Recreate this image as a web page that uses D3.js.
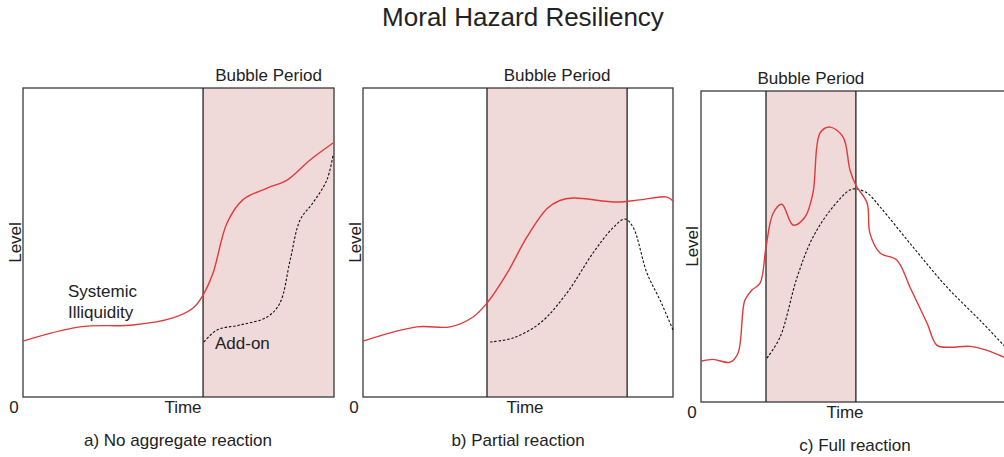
<!DOCTYPE html>
<html>
<head>
<meta charset="utf-8">
<script src="https://cdn.jsdelivr.net/npm/d3@7"></script>
<style>
  body { margin: 0; background: #fff; }
  text { font-family: "Liberation Sans", Arial, sans-serif; fill: #222; }
</style>
</head>
<body>
<script>
"use strict";

// Time (0-100) and level (0-100), one set per panel
var titleText = "Moral Hazard Resiliency";
var captions = ["a) No aggregate reaction", "b) Partial reaction", "c) Full reaction"];
var bubbles = [[57.9, 100], [40.0, 85.2], [20.9, 49.8]];

var redTimeA = [0, 18.3, 35.4, 48.2, 54.7, 57.9, 61.1, 65.6, 70.7, 78.5, 84.9, 92.3, 99.7];
var redLevelA = [18.1, 22.7, 23.3, 25.6, 28.8, 33.0, 40.1, 56.3, 63.8, 67.6, 70.2, 76.7, 82.2];
var dashTimeA = [58.2, 62.4, 69.8, 78.5, 82.6, 85.9, 89.1, 93.2, 97.7, 99.7];
var dashLevelA = [17.8, 21.7, 23.3, 25.9, 30.4, 44.3, 57.3, 62.8, 70.2, 78.3];

var redTimeB = [0, 17.4, 28.1, 35.5, 40.0, 46.5, 52.9, 59.4, 63.5, 67.7, 81.9, 89.4, 98.1, 100];
var redLevelB = [18.1, 22.7, 22.7, 25.9, 30.4, 40.1, 51.8, 61.0, 63.6, 64.4, 63.1, 63.8, 64.7, 63.4];
var dashTimeB = [41.0, 48.4, 57.1, 65.8, 74.2, 80.6, 84.5, 87.1, 91.6, 95.8, 100];
var dashLevelB = [17.8, 19.1, 23.9, 33.7, 46.6, 54.7, 57.6, 55.0, 40.1, 31.4, 21.7];

var redTimeC = [0, 3.9, 9.3, 11.9, 14.1, 16.4, 19.0, 20.9, 23.2, 26.0, 29.6, 33.4, 36.0, 38.3, 41.5,
  45.7, 47.9, 49.8, 53.4, 54.3, 57.6, 63.0, 67.2, 72.7, 75.9, 80.1, 86.5, 92.0, 97.4, 100];
var redLevelC = [13.1, 13.7, 12.8, 15.7, 32.7, 36.0, 38.2, 49.8, 60.7, 63.6, 56.9, 59.4, 67.2, 86.5, 88.4,
  85.2, 74.6, 69.7, 64.0, 54.3, 47.9, 45.6, 36.9, 25.3, 18.2, 17.6, 17.9, 16.6, 14.4, 13.4];
var dashTimeC = [21.2, 25.4, 30.9, 36.0, 42.4, 47.9, 49.8, 53.4, 57.6, 68.2, 79.1, 89.7, 97.4, 100];
var dashLevelC = [14.1, 20.8, 40.1, 53.0, 62.7, 68.2, 68.5, 67.2, 62.7, 49.8, 36.9, 26.3, 18.2, 15.6];

function zip(ts, ls) {
  return ts.map(function(t, i) { return {t: t, v: ls[i]}; });
}

var panels = [
  {x0: 23, x1: 334, top: 88, bottom: 397, red: zip(redTimeA, redLevelA), dash: zip(dashTimeA, dashLevelA),
   bubbleY: 75, captionX: 178, captionY: 440, axisY: 407, zeroX: 14, timeX: 183, levelX: 15},
  {x0: 363, x1: 673, top: 88, bottom: 397, red: zip(redTimeB, redLevelB), dash: zip(dashTimeB, dashLevelB),
   bubbleY: 75, captionX: 518, captionY: 440, axisY: 407, zeroX: 354, timeX: 525, levelX: 355},
  {x0: 701, x1: 1012, top: 91, bottom: 402, red: zip(redTimeC, redLevelC), dash: zip(dashTimeC, dashLevelC),
   bubbleY: 78, captionX: 855, captionY: 445, axisY: 412, zeroX: 692, timeX: 845, levelX: 692}
];

var svg = d3.select("body").append("svg")
    .attr("width", 1004)
    .attr("height", 457);

svg.append("text")
    .attr("x", 523)
    .attr("y", 17)
    .attr("text-anchor", "middle")
    .attr("dominant-baseline", "central")
    .style("font-size", "26px")
    .text(titleText);

panels.forEach(function(p, i) {
  var x = d3.scaleLinear().domain([0, 100]).range([p.x0, p.x1]);
  var y = d3.scaleLinear().domain([0, 100]).range([p.bottom, p.top]);
  var g = svg.append("g");

  var b = bubbles[i];
  g.append("rect")
      .attr("x", x(b[0]))
      .attr("y", y(100))
      .attr("width", x(b[1]) - x(b[0]))
      .attr("height", y(0) - y(100))
      .attr("fill", "#efd9d9");

  // frame
  g.append("rect")
      .attr("x", x(0))
      .attr("y", y(100))
      .attr("width", x(100) - x(0))
      .attr("height", y(0) - y(100))
      .attr("fill", "none")
      .attr("stroke", "#3a3a3a")
      .attr("stroke-width", 1.3);

  b.forEach(function(t) {
    if (t >= 100) return;
    g.append("line")
        .attr("x1", x(t)).attr("x2", x(t))
        .attr("y1", y(0)).attr("y2", y(100))
        .attr("stroke", "#222")
        .attr("stroke-width", 1.3);
  });

  g.append("text")
      .attr("x", x((b[0] + b[1]) / 2))
      .attr("y", p.bubbleY)
      .attr("text-anchor", "middle")
      .attr("dominant-baseline", "central")
      .style("font-size", "17px")
      .text("Bubble Period");

  var line = d3.line()
      .x(function(d) { return x(d.t); })
      .y(function(d) { return y(d.v); })
      .curve(d3.curveCatmullRom.alpha(0.5));

  g.append("path")
      .datum(p.dash)
      .attr("d", line)
      .attr("fill", "none")
      .attr("stroke", "#111")
      .attr("stroke-width", 1.1)
      .attr("stroke-dasharray", "2.5,1.8");

  g.append("path")
      .datum(p.red)
      .attr("d", line)
      .attr("fill", "none")
      .attr("stroke", "#e03a3a")
      .attr("stroke-width", 1.4);

  g.append("text")
      .attr("x", p.zeroX)
      .attr("y", p.axisY)
      .attr("text-anchor", "middle")
      .attr("dominant-baseline", "central")
      .style("font-size", "17px")
      .text("0");

  g.append("text")
      .attr("x", p.timeX)
      .attr("y", p.axisY)
      .attr("text-anchor", "middle")
      .attr("dominant-baseline", "central")
      .style("font-size", "17px")
      .text("Time");

  g.append("text")
      .attr("transform", "translate(" + p.levelX + "," + ((p.top + p.bottom) / 2) + ") rotate(-90)")
      .attr("text-anchor", "middle")
      .attr("dominant-baseline", "central")
      .style("font-size", "17px")
      .text("Level");

  g.append("text")
      .attr("x", p.captionX)
      .attr("y", p.captionY)
      .attr("text-anchor", "middle")
      .attr("dominant-baseline", "central")
      .style("font-size", "17px")
      .text(captions[i]);
});

// annotations in panel a
var ann = svg.append("g").style("font-size", "17px");
ann.append("text").attr("x", 68).attr("y", 291).attr("dominant-baseline", "central").text("Systemic");
ann.append("text").attr("x", 68).attr("y", 312).attr("dominant-baseline", "central").text("Illiquidity");
ann.append("text").attr("x", 215).attr("y", 343).attr("dominant-baseline", "central").text("Add-on");
</script>
</body>
</html>
